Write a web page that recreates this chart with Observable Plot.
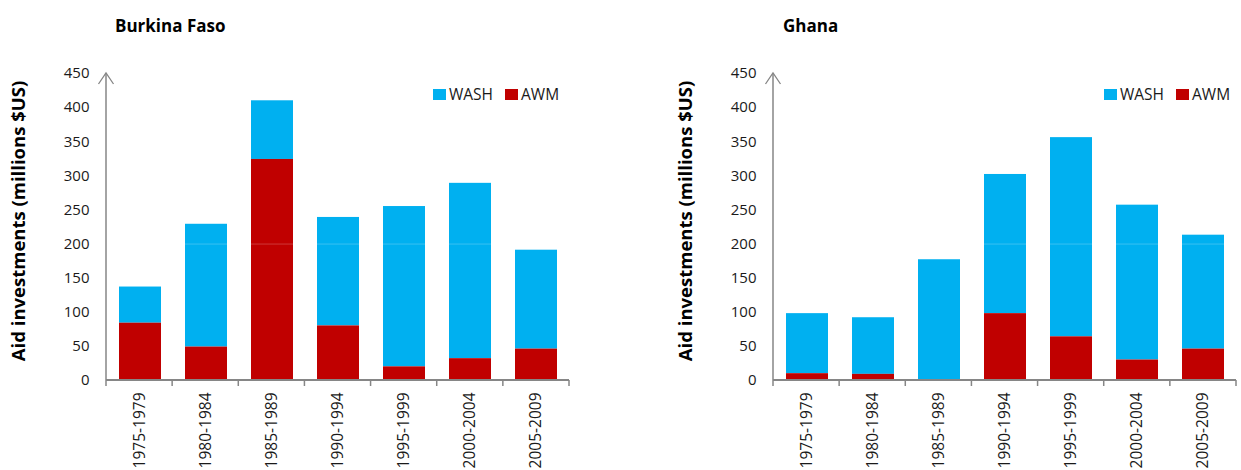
<!DOCTYPE html>
<html><head><meta charset="utf-8">
<script src="https://cdn.jsdelivr.net/npm/d3@7"></script>
<script src="https://cdn.jsdelivr.net/npm/@observablehq/plot@0.6"></script>
<style>
body{margin:0;background:#fff;font-family:"Open Sans",sans-serif;}
#wrap{position:relative;width:1241px;height:470px;overflow:hidden;background:#fff;}
.panel{position:absolute;top:0;}
.panel svg{overflow:visible;}
.title{position:absolute;top:16px;font-weight:bold;font-size:17px;line-height:20px;color:#000;}
.legend{position:absolute;top:84px;height:20px;display:flex;align-items:center;font-size:15.5px;color:#1a1a1a;white-space:nowrap;}
.sw{display:inline-block;width:13px;height:11px;margin-right:3px;}
.lg-item{display:flex;align-items:center;margin-right:12px;}
</style></head><body><div id="wrap"></div>
<script>
// ---- data ----
const periods = ["1975-1979","1980-1984","1985-1989","1990-1994","1995-1999","2000-2004","2005-2009"];
const series = ["WASH","AWM"];
const seriesColors = ["#00B0F0","#C00000"];
const burkinaWASH = [53, 180, 86, 159, 235, 257, 145];
const burkinaAWM  = [84, 49, 324, 80, 20, 32, 46];
const ghanaWASH   = [88, 83, 177, 204, 292, 227, 167];
const ghanaAWM    = [10, 9, 0, 98, 64, 30, 46];
const yTicks = [0, 50, 100, 150, 200, 250, 300, 350, 400, 450];
const yLabel = "Aid investments (millions $US)";
const countries = ["Burkina Faso", "Ghana"];

// ---- layout ----
const layout = [
  {left: 0,   width: 620, marginLeft: 106, marginRight: 51, titleX: 115, legendX: 433},
  {left: 620, width: 621, marginLeft: 153, marginRight: 5,  titleX: 783, legendX: 1104}
];
const valuesByCountry = [
  {WASH: burkinaWASH, AWM: burkinaAWM},
  {WASH: ghanaWASH, AWM: ghanaAWM}
];

function axisDecor(n) {
  return (index, scales, values, dims) => {
    const {width, height, marginLeft, marginRight, marginTop, marginBottom} = dims;
    const x0 = marginLeft, x1 = width - marginRight, yb = height - marginBottom, yt = marginTop;
    const g = d3.create("svg:g").attr("fill", "none").attr("stroke", "#868686");
    g.append("line").attr("x1", x0).attr("x2", x0).attr("y1", yb).attr("y2", yt).attr("stroke-width", 1.5);
    g.append("path").attr("d", `M${x0 - 7.5},${yt + 11}L${x0},${yt}L${x0 + 7.5},${yt + 11}`).attr("stroke-width", 1.3);
    g.append("line").attr("x1", x0).attr("x2", x1).attr("y1", yb).attr("y2", yb).attr("stroke-width", 2);
    const step = (x1 - x0) / n;
    for (let i = 0; i <= n; ++i) {
      const x = x0 + i * step;
      g.append("line").attr("x1", x).attr("x2", x).attr("y1", yb).attr("y2", yb + 6).attr("stroke-width", 1.5);
    }
    return g.node();
  };
}

const wrap = document.getElementById("wrap");
countries.forEach((name, ci) => {
  const L = layout[ci];
  const vals = valuesByCountry[ci];
  const data = [];
  periods.forEach((p, i) => {
    series.forEach(s => data.push({period: p, series: s, value: vals[s][i]}));
  });
  const chart = Plot.plot({
    width: L.width,
    height: 470,
    marginTop: 73,
    marginBottom: 90,
    marginLeft: L.marginLeft,
    marginRight: L.marginRight,
    style: {fontFamily: "'Open Sans', sans-serif", fontSize: "15px", color: "#1a1a1a", background: "transparent"},
    x: {domain: periods, paddingInner: 0.37, paddingOuter: 0.185, label: null},
    y: {domain: [0, 450], label: null},
    color: {domain: series, range: seriesColors},
    marks: [
      Plot.barY(data, {x: "period", y: "value", fill: "series", order: ["AWM", "WASH"]}),
      Plot.ruleY([200], {stroke: "white", strokeOpacity: 0.22}),
      Plot.axisY({ticks: yTicks, tickSize: 0, tickPadding: 17, label: null}),
      Plot.axisX({tickSize: 0, tickPadding: 12, tickRotate: -90, label: null, fontSize: 15.5}),
      axisDecor(periods.length),
      Plot.text([yLabel], {text: d => d, frameAnchor: "left", textAnchor: "middle", rotate: -90, dx: -87, dy: -6, fontWeight: "bold", fontSize: 18.5, fill: "#000"})
    ]
  });
  const panel = document.createElement("div");
  panel.className = "panel";
  panel.style.left = L.left + "px";
  panel.appendChild(chart);
  wrap.appendChild(panel);

  const t = document.createElement("div");
  t.className = "title";
  t.style.left = L.titleX + "px";
  t.textContent = name;
  wrap.appendChild(t);

  const lg = document.createElement("div");
  lg.className = "legend";
  lg.style.left = L.legendX + "px";
  series.forEach((s, si) => {
    const it = document.createElement("span");
    it.className = "lg-item";
    const sw = document.createElement("span");
    sw.className = "sw";
    sw.style.background = seriesColors[si];
    it.appendChild(sw);
    it.appendChild(document.createTextNode(s));
    lg.appendChild(it);
  });
  wrap.appendChild(lg);
});
</script>
</body></html>
